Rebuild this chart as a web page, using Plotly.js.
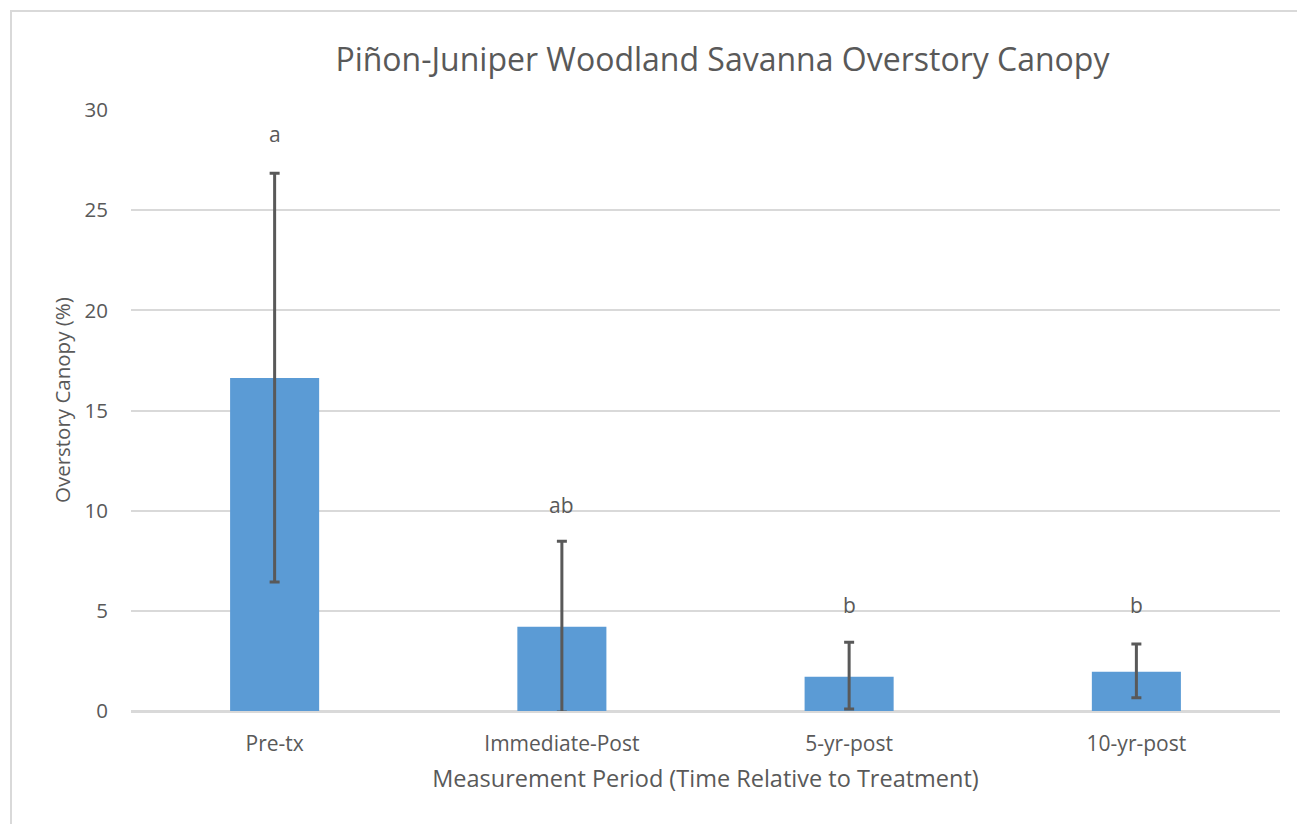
<!DOCTYPE html>
<html>
<head>
<meta charset="utf-8">
<script src="https://cdn.plot.ly/plotly-3.0.1.min.js"></script>
<style>
html,body{margin:0;padding:0;background:#fff;overflow:hidden;width:1297px;height:824px;}
#frame{position:absolute;left:10px;top:10px;width:1400px;height:900px;border-left:2px solid #d9d9d9;border-top:2px solid #d9d9d9;box-sizing:border-box;pointer-events:none;z-index:2;}
#chart{position:absolute;left:0;top:0;width:1297px;height:824px;}
</style>
</head>
<body>
<div id="chart"></div>
<div id="frame"></div>
<script>
const categories = ["Pre-tx", "Immediate-Post", "5-yr-post", "10-yr-post"];
const canopyMean = [16.62, 4.21, 1.71, 1.96];
const errPlus = [10.22, 4.26, 1.72, 1.38];
const errMinus = [10.18, 4.26, 1.61, 1.30];
const sigLetters = ["a", "ab", "b", "b"];
const letterY = [28.8, 10.3, 5.3, 5.3];

const font = "'Open Sans', Lato, sans-serif";
const txt = "#595959";

const trace = {
  type: "bar",
  x: categories,
  y: canopyMean,
  marker: {color: "#5B9BD5"},
  error_y: {type: "data", symmetric: false, array: errPlus, arrayminus: errMinus,
            color: "#595959", thickness: 3, width: 5},
  hoverinfo: "x+y"
};

const annotations = categories.map((c, i) => ({
  x: c, y: letterY[i], xref: "x", yref: "y", text: sigLetters[i], showarrow: false,
  font: {family: font, size: 21, color: txt}, yanchor: "middle"
}));
annotations.push({
  xref: "paper", yref: "paper", x: -0.060, y: 0.5175, xanchor: "center", yanchor: "middle",
  text: "Overstory Canopy (%)", textangle: -90, showarrow: false,
  font: {family: font, size: 20.5, color: txt}
});

const layout = {
  width: 1297, height: 824,
  margin: {l: 131, r: 17, t: 110, b: 113},
  paper_bgcolor: "#fff", plot_bgcolor: "#fff",
  bargap: 0.69,
  showlegend: false,
  title: {text: "Piñon-Juniper Woodland Savanna Overstory Canopy",
          font: {family: font, size: 32, color: txt},
          x: 0.557, xanchor: "center", y: 0.928, yanchor: "middle"},
  xaxis: {
    type: "category",
    tickfont: {family: font, size: 21, color: txt},
    title: {text: "Measurement Period (Time Relative to Treatment)",
            font: {family: font, size: 23.5, color: txt}, standoff: 14},
    showline: true, linecolor: "#d9d9d9", linewidth: 2,
    ticks: "", ticklen: 0, ticklabelstandoff: 13
  },
  yaxis: {
    range: [0, 30], dtick: 5, tick0: 0,
    tickfont: {family: font, size: 20.5, color: txt},
    gridcolor: "#d9d9d9", gridwidth: 2,
    zeroline: true, zerolinecolor: "#d9d9d9", zerolinewidth: 2,
    showline: false, ticks: "", ticklabelstandoff: 22
  },
  annotations: annotations
};

Plotly.newPlot("chart", [trace], layout, {displayModeBar: false, staticPlot: true});
</script>
</body>
</html>
